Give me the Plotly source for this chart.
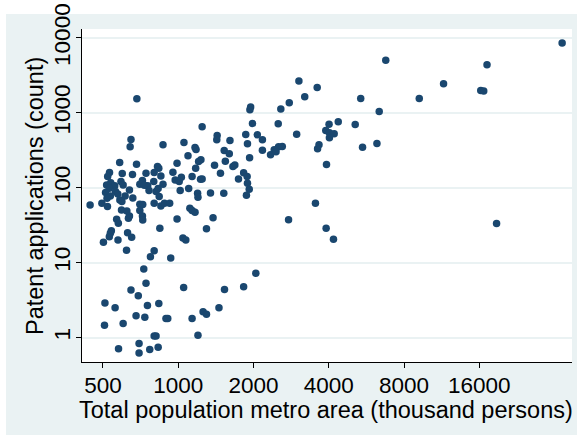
import plotly.graph_objects as go

# Total population of metro area (thousand persons)
population = [
    34320, 6761, 17180, 3038, 3596, 11514, 16219, 16670, 3206, 5369,
    9206, 683, 2780, 2572, 1948, 1935, 6366, 1981, 2511, 5103,
    4365, 4011, 1246, 3891, 4024, 4205, 1431, 1862, 2071, 2976,
    2171, 1610, 1054, 1426, 647, 4024, 869, 642, 1892, 3656,
    3608, 6234, 5460, 1167, 1178, 2171, 1527, 1600, 2520, 2607,
    2420, 2340, 2461, 1094, 1929, 3917, 583, 681, 989, 1397,
    1543, 1684, 1655, 1232, 1206, 1475, 1826, 1886, 1742, 1174,
    952, 826, 836, 531, 522, 597, 656, 743, 801, 852,
    1029, 972, 1136, 1228, 1246, 1892, 1923, 1874, 1521, 1346,
    1195, 1199, 1101, 1018, 1009, 869, 798, 719, 702, 638,
    590, 602, 537, 517, 557, 530, 512, 561, 573, 535,
    519, 755, 764, 732, 831, 815, 839, 658, 613, 584,
    595, 495, 521, 444, 702, 721, 801, 852, 881, 924,
    593, 623, 638, 632, 702, 719, 721, 567, 576, 989,
    1113, 1136, 1167, 1378, 844, 1297, 627, 540, 535, 530,
    651, 574, 502, 621, 1044, 1072, 2762, 3538, 3904, 4177,
    18763, 801, 774, 933, 728, 743, 647, 692, 753, 509,
    559, 836, 678, 735, 893, 908, 1136, 1257, 1297, 1455,
    1051, 1531, 1826, 2043, 507, 602, 801, 815, 1199, 577,
    697, 697, 769, 831,
]

# Patent applications (count)
patents = [
    8570, 5024, 4397, 2659, 2188, 2449, 1994, 1954, 1642, 1560,
    1560, 1543, 1364, 1123, 1194, 1100, 1045, 722, 714, 700,
    760, 707, 651, 582, 542, 525, 499, 514, 509, 520,
    436, 428, 402, 436, 441, 464, 374, 352, 386, 374,
    331, 390, 348, 345, 324, 318, 314, 284, 352, 355,
    321, 275, 302, 267, 251, 204, 217, 206, 213, 200,
    226, 202, 192, 236, 224, 156, 158, 141, 131, 182,
    161, 192, 182, 160, 141, 155, 150, 156, 160, 144,
    138, 127, 141, 130, 131, 115, 95.5, 79.4, 84.4, 85.3,
    84.4, 74.6, 97.5, 91.6, 121, 111, 121, 125, 111, 93.5,
    121, 109, 117, 109, 106, 98.5, 86.1, 88.9, 82.7, 77.8,
    72.4, 106, 91.6, 108, 97.5, 88.9, 76.2, 73.1, 77.8, 68.8,
    65.3, 62.1, 56.0, 58.9, 60.1, 59.6, 62.1, 57.1, 62.1, 62.1,
    50.5, 49.0, 42.0, 39.1, 49.5, 42.0, 37.1, 37.9, 33.5, 38.3,
    53.2, 49.5, 47.0, 39.9, 28.7, 28.4, 25.1, 26.7, 24.6, 22.2,
    21.8, 20.0, 18.7, 14.6, 21.3, 20.0, 37.5, 62.1, 28.7, 20.5,
    33.2, 14.4, 12.0, 11.5, 8.2, 5.3, 4.30, 3.61, 2.68, 2.88,
    2.49, 2.85, 1.95, 1.87, 1.80, 1.80, 1.80, 2.20, 2.05, 2.49,
    4.67, 4.39, 4.76, 7.2, 1.46, 1.54, 1.05, 1.05, 1.07, 0.71,
    0.83, 0.62, 0.69, 0.74,
]

x_ticks = [500, 1000, 2000, 4000, 8000, 16000]
x_tick_labels = ["500", "1000", "2000", "4000", "8000", "16000"]
y_ticks = [1, 10, 100, 1000, 10000]
y_tick_labels = ["1", "10", "100", "1000", "10000"]

x_title = "Total population metro area (thousand persons)"
y_title = "Patent applications (count)"

BG = "#eaf2f3"
FONT = "Arial, Liberation Sans, sans-serif"
FS = 23.5
TFS = 22.5

W, H = 577, 435
ML, MR, MT, MB = 82, 5, 29, 73
PW, PH = W - ML - MR, H - MT - MB

fig = go.Figure()
fig.add_trace(go.Scatter(
    x=population, y=patents, mode="markers",
    marker=dict(color="#1a476f", size=7.5, line=dict(width=0)),
    hoverinfo="x+y", showlegend=False,
))

fig.update_layout(
    width=W, height=H,
    margin=dict(l=ML, r=MR, t=MT, b=MB, autoexpand=False),
    paper_bgcolor="white",
    plot_bgcolor="white",
    font=dict(family=FONT, size=FS, color="black"),
    shapes=[dict(type="rect", xref="paper", yref="paper", layer="below",
                 x0=(6 - ML) / PW, x1=(W - ML) / PW,
                 y0=(H - MB - H) / PH, y1=(H - MB - 14) / PH,
                 fillcolor=BG, line=dict(width=0)),
            dict(type="rect", xref="paper", yref="paper", layer="below",
                 x0=0, x1=1, y0=0, y1=1, fillcolor="white", line=dict(width=0))],
    annotations=[
        dict(text=x_title, xref="paper", yref="paper", showarrow=False,
             x=(326 - ML) / PW, y=(H - MB - 410) / PH,
             xanchor="center", yanchor="middle", font=dict(size=FS)),
        dict(text=y_title, xref="paper", yref="paper", showarrow=False,
             x=(35 - ML) / PW, y=(H - MB - 196) / PH, textangle=-90,
             xanchor="center", yanchor="middle", font=dict(size=FS)),
    ],
)

fig.update_xaxes(
    type="log", range=[2.615, 4.575],
    tickmode="array", tickvals=x_ticks, ticktext=x_tick_labels,
    showgrid=False, zeroline=False,
    showline=True, linecolor="black", linewidth=1,
    ticks="outside", ticklen=5, tickcolor="black", tickwidth=1,
    tickfont=dict(size=TFS), ticklabelstandoff=-2,
    automargin=False,
)
fig.update_yaxes(
    type="log", range=[-0.327, 4.12],
    tickmode="array", tickvals=y_ticks, ticktext=y_tick_labels,
    showgrid=True, gridcolor=BG, gridwidth=1.5, zeroline=False,
    showline=True, linecolor="black", linewidth=1,
    ticks="outside", ticklen=5, tickcolor="black", tickwidth=1,
    tickangle=-90, tickfont=dict(size=TFS), ticklabelstandoff=-3,
    automargin=False,
)

fig.write_html("out.html", config={"displayModeBar": False},
               post_script="document.body.style.margin='0';document.body.style.padding='0';")
